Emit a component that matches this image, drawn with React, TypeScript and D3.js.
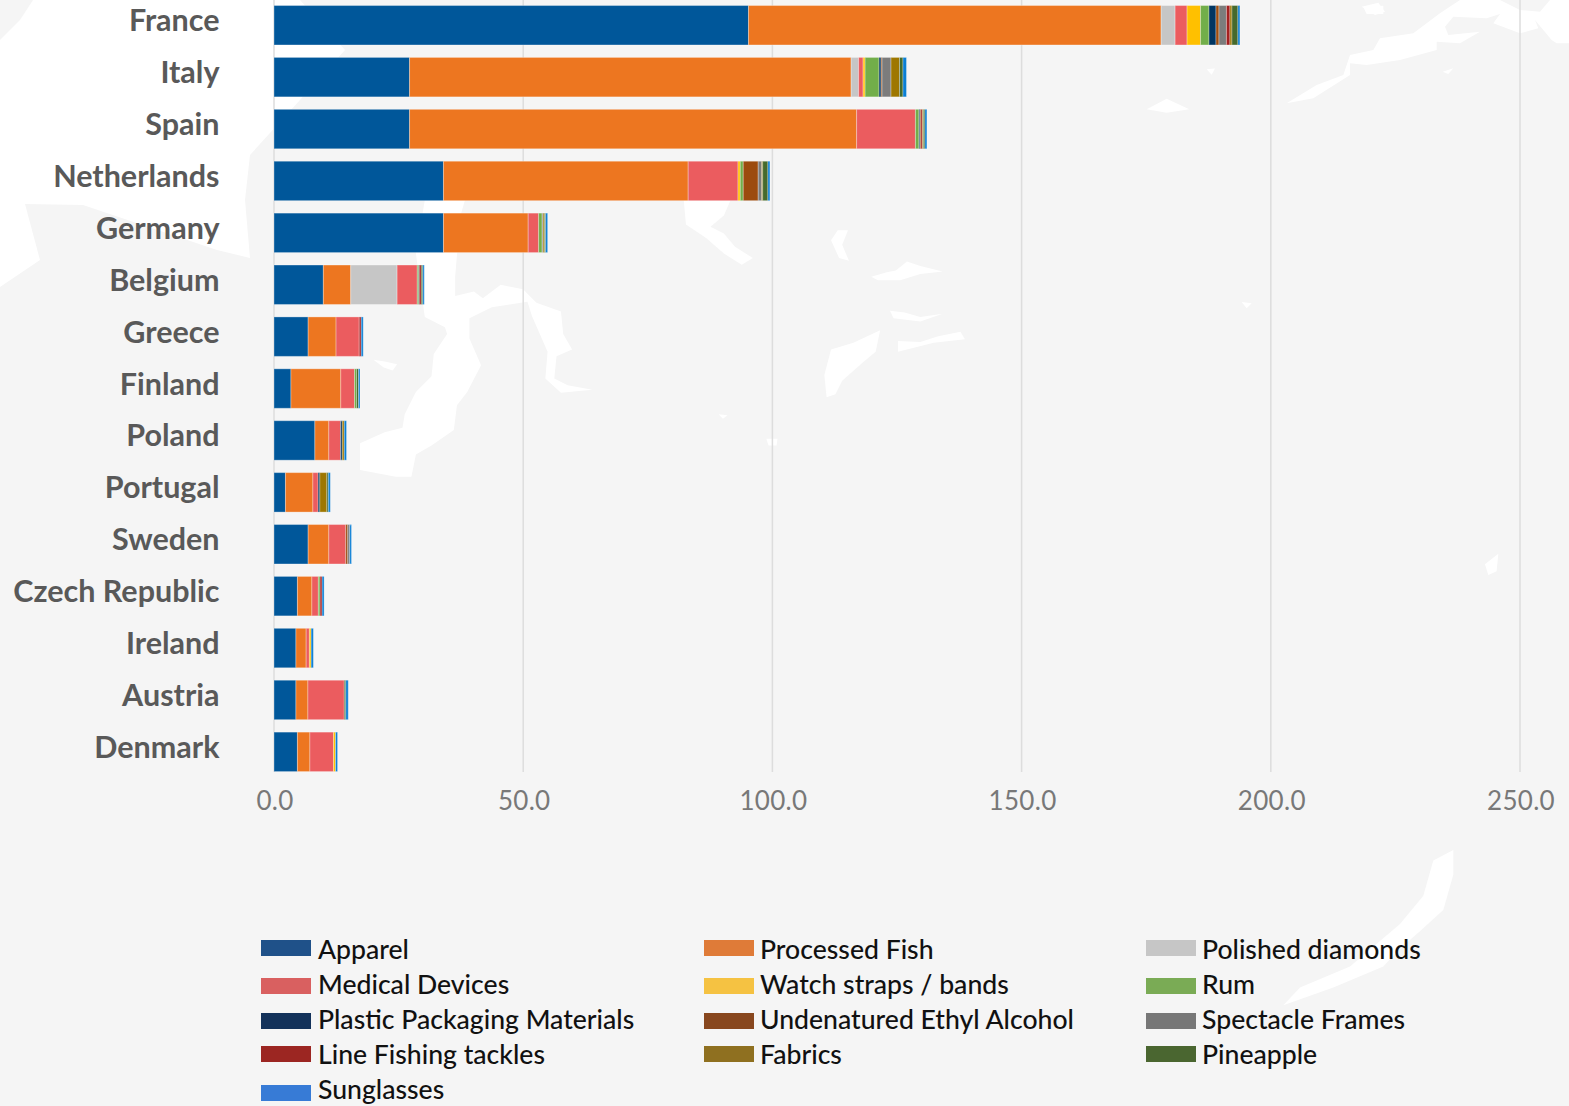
import React from "react";
import * as d3 from "d3";

const countries = ["France","Italy","Spain","Netherlands","Germany","Belgium","Greece","Finland","Poland","Portugal","Sweden","Czech Republic","Ireland","Austria","Denmark"];
const seriesNames = ["Apparel","Processed Fish","Polished diamonds","Medical Devices","Watch straps / bands","Rum","Plastic Packaging Materials","Undenatured Ethyl Alcohol","Spectacle Frames","Line Fishing tackles","Fabrics","Pineapple","Sunglasses"];
const barColors = ["#00579a","#ed7620","#c6c6c6","#eb5c5f","#ffc000","#72ae4a","#003562","#9c4b0e","#7c7c7c","#a52020","#9e7700","#466a2c","#0a7ed4"];
const legendColors = ["#1f5189","#df7b38","#c6c6c6","#d96060","#f5c242","#7aab55","#13325a","#88471e","#777777","#9c2622","#8f7020","#4a6630","#377bd6"];

const apparel = [95.2,27.2,27.2,34,34,9.9,6.85,3.4,8.2,2.3,6.85,4.7,4.4,4.4,4.7];
const processedFish = [82.8,88.6,89.7,49.1,17,5.5,5.6,10,2.8,5.5,4.15,2.9,2.05,2.4,2.5];
const polishedDiamonds = [2.8,1.5,0,0,0,9.3,0,0,0,0,0,0,0,0,0];
const medicalDevices = [2.4,0.9,11.8,10,2.1,4.05,4.65,2.75,2.35,1.05,3.4,1.3,0.65,7.3,4.75];
const watchStraps = [2.7,0.4,0,0.45,0,0,0,0,0,0,0,0,0.35,0,0.4];
const rum = [1.7,2.8,0.7,0.6,0.7,0.3,0,0.4,0,0,0,0.35,0,0,0];
const plasticPackaging = [1.4,0.4,0.2,0,0,0.1,0,0,0.35,0.35,0,0,0,0,0];
const ethylAlcohol = [0.6,0.2,0.2,3,0,0,0,0,0,0,0.4,0,0,0,0];
const spectacleFrames = [1.5,1.8,0,0.7,0.2,0,0,0,0,0,0.4,0,0,0,0];
const lineFishing = [0.7,0,0.3,0,0,0.4,0.4,0,0,0,0,0.4,0,0,0];
const fabrics = [0.4,1.7,0.2,0.2,0.3,0,0,0,0.4,1.4,0,0,0,0,0];
const pineapple = [1.2,0.7,0.3,1.05,0.2,0.3,0,0.4,0,0.3,0,0,0,0.3,0];
const sunglasses = [0.4,0.7,0.4,0.4,0.4,0.3,0.4,0.3,0.45,0.4,0.35,0.4,0.45,0.5,0.4];
const seriesValues = [apparel,processedFish,polishedDiamonds,medicalDevices,watchStraps,rum,plasticPackaging,ethylAlcohol,spectacleFrames,lineFishing,fabrics,pineapple,sunglasses];
const xTicks = [0,50,100,150,200,250];

// Faint decorative world-map backdrop, traced by eye
const seaTopLeft = "0,0 300,0 345,50 300,100 250,155 245,200 250,258 217,250 83,205 25,204 40,260 0,287";
const landTopLeft = "0,0 33,0 20,20 0,40";
const mapCenter = [
"190,0 280,0 270,35 258,170 258,215 300,205 320,220 360,190 410,200 440,230 495,250 500,300 520,335 485,350 480,400 510,415 565,425 495,432 460,400 465,340 430,260 420,228 340,240 290,265 290,310 316,370 285,430 262,460 255,515 205,550 170,570 160,620 125,620 45,605 45,545 100,520 140,510 145,480 170,430 205,395 210,345 240,300 235,285 190,262 170,120",
"75,358 100,362 128,368 118,382 98,375",
"770,0 875,0 860,35 830,60 860,75 885,105 925,130 900,145 860,120 820,85 775,55",
"1100,90 1115,68 1138,68 1125,100 1140,136 1118,130",
"1190,172 1225,162 1245,158 1270,138 1300,148 1350,160 1300,166 1255,180 1205,180",
"1232,248 1265,252 1300,262 1350,255 1300,272 1240,265",
"1250,316 1300,318 1340,305 1390,295 1400,312 1330,320 1250,340",
"1085,392 1100,335 1150,320 1210,292 1200,340 1170,365 1125,405 1110,435 1090,442",
"848,480 868,482 858,490","955,535 980,535 978,550 960,550",
];
const mapTopRight = [
"20,310 110,255 190,225 210,165 280,150 300,115 400,100 480,40 540,0 660,0 720,30 780,35 810,0 867,0 867,130 830,130 815,120 765,60 775,85 720,100 640,70 660,42 620,55 520,50 495,80 505,105 600,95 540,130 470,125 470,150 360,180 260,195 210,190 210,225 100,295",
"245,20 295,8 315,35 285,45","488,215 520,205 505,222",
];
const mapRight = [
"1000,1220 1060,1205 1060,1240 1030,1290 960,1320 900,1345 850,1370 700,1400 550,1425 600,1400 750,1370 900,1310 970,1270",
"1155,800 1195,785 1190,810 1165,815","140,155 200,140 268,155 200,160","425,428 455,430 440,437","320,98 345,97 335,106","790,10 850,8 850,20 800,20",
];

const W = 1569, H = 1106;
const x = d3.scaleLinear().domain([0,250]).range([274,1520]);
const y = d3.scaleBand<string>().domain(countries).range([-0.7,777.8]).paddingInner(0.24).paddingOuter(0.12);
const stack = d3.stack<string>()
  .keys(seriesNames)
  .value((c, key) => seriesValues[seriesNames.indexOf(key)][countries.indexOf(c)]);
const stacked = stack(countries);
const legendCols = [261,704,1146];
const legendTextOffset = [57,56,56];
const legendY = [948,986,1021,1054,1093];
const textY = [959,994,1029,1064,1099];

export default function App() {
  return (
    <svg width={W} height={H} viewBox={`0 0 ${W} ${H}`} style={{position:"absolute",left:0,top:0,background:"#f5f5f5"}}>
      <g fill="#fff">
        <polygon points={seaTopLeft}/>
        <polygon points={landTopLeft} fill="#f5f5f5"/>
        <g transform="translate(340,200) scale(0.4464)">{mapCenter.map((p,i)=><polygon key={i} points={p}/>)}</g>
        <g transform="translate(1280,0) scale(0.3333)">{mapTopRight.map((p,i)=><polygon key={i} points={p}/>)}</g>
        <g transform="translate(1100,0) scale(0.3333,0.7054)">{mapRight.map((p,i)=><polygon key={i} points={p}/>)}</g>
      </g>
      {xTicks.map(t=>(
        <g key={t}>
          <line x1={x(t)} x2={x(t)} y1={0} y2={772} stroke="#dddddd" strokeWidth={1.5}/>
          <text x={x(t)+1} y={810} textAnchor="middle" fontFamily="Lato" fontSize={26} fill="#787878" letterSpacing={0.3}>{t.toFixed(1)}</text>
        </g>
      ))}
      {stacked.map((s,i)=>(
        <g key={s.key} fill={barColors[i]}>
          {s.map((d,j)=> d[1]>d[0] ? (
            <rect key={j} x={x(d[0])} y={y(countries[j])} width={x(d[1])-x(d[0])} height={y.bandwidth()} stroke="#ffffff" strokeOpacity={0.3} strokeWidth={1}/>
          ) : null)}
        </g>
      ))}
      {countries.map(c=>(
        <text key={c} x={219.5} y={y(c)!+y.bandwidth()/2+6} textAnchor="end" fontFamily="Lato" fontWeight={700} fontSize={30.5} fill="#595959">{c}</text>
      ))}
      {seriesNames.map((n,i)=>{
        const col=i%3,row=Math.floor(i/3);
        return (
          <g key={n}>
            <rect x={legendCols[col]} y={legendY[row]-8} width={50} height={16} fill={legendColors[i]}/>
            <text x={legendCols[col]+legendTextOffset[col]} y={textY[row]} fontFamily="Lato" fontWeight={500} fontSize={26.6} fill="#111">{n}</text>
          </g>
        );
      })}
    </svg>
  );
}
